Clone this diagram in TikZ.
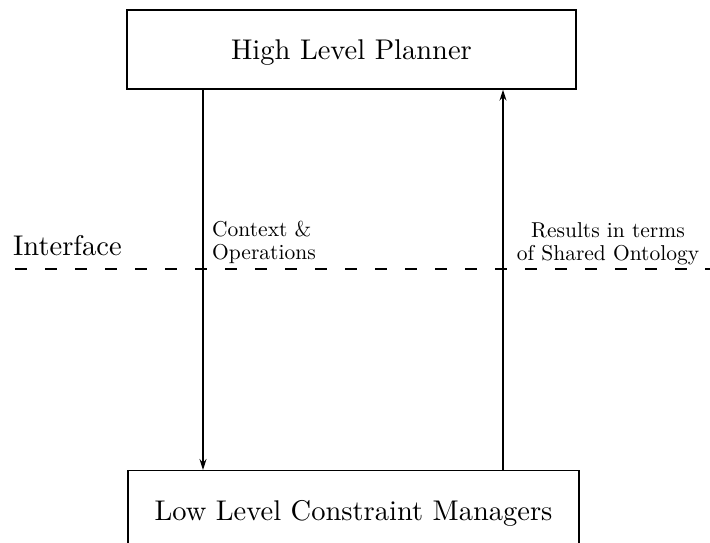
\documentclass[tikz,border=0pt]{standalone}
\usepackage{fontspec}
\setmainfont{lmroman10-regular}[Extension=.otf]
\usetikzlibrary{arrows.meta}
\tikzset{
  box/.style={draw, line width=1.4pt, text depth=0pt, font=\fontsize{28.5}{34}\selectfont},
  flow/.style={line width=1.3pt, -{Stealth[length=11pt,width=7pt]}},
  note/.style={inner sep=0pt, font=\fontsize{21.5}{23}\selectfont},
}
\begin{document}
\begin{tikzpicture}[x=1pt,y=-1pt]
  \clip (0,0) rectangle (710,542);
  \useasboundingbox (0,0) rectangle (710,542);
  % the two layers
  \node[box, minimum width=449pt, minimum height=79pt] (planner) at (351.5,49.5) {High Level Planner};
  \node[box, minimum width=451pt, minimum height=80pt, anchor=north] (managers) at (353.5,470) {Low Level Constraint Managers};
  % interface line
  \coordinate (lineL) at (15,269);
  \coordinate (lineR) at (710,269);
  \draw[line width=1.3pt, dash pattern=on 12pt off 18pt] (lineL) -- (lineR);
  \node[inner sep=0pt, anchor=base west, font=\fontsize{28.5}{34}\selectfont] (iface) at (13,255) {Interface};
  % flows
  \draw[flow] (planner.south -| 203,0) -- (managers.north -| 203,0);
  \draw[flow] (managers.north -| 503,0) -- (planner.south -| 503,0);
  \node[note, anchor=north west, align=left] (ctx) at (212,221) {Context \&\\Operations};
  \node[note, anchor=north, align=center] (res) at (608,222) {Results in terms\\of Shared Ontology};
\end{tikzpicture}
\end{document}
